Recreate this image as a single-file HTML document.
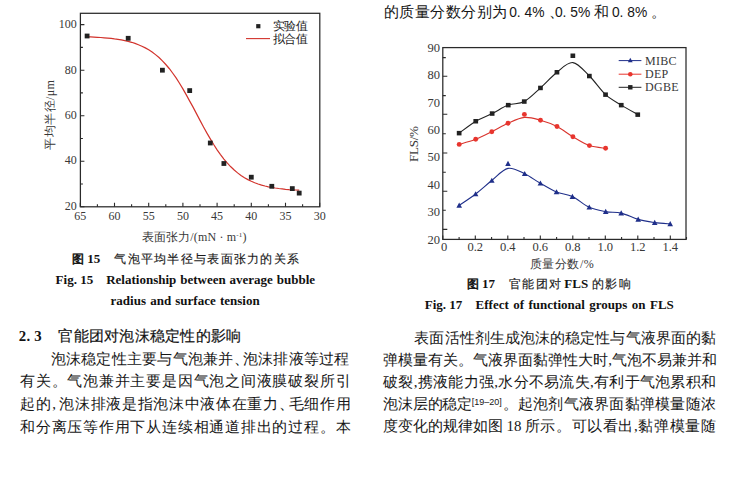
<!DOCTYPE html>
<html><head><meta charset="utf-8"><title>paper</title>
<style>
html,body{margin:0;padding:0;background:#fff}
body{width:749px;height:482px;position:relative;overflow:hidden;font-family:"Liberation Serif",serif;color:#161616}
.c{position:absolute;left:0;top:0}
.c text{font-family:"Liberation Serif",serif;fill:#383838}
.c .tl{font-size:12px}
.c .tr{font-size:12.5px}
.c .lg{font-size:11.5px;fill:#222}
.c .at{font-size:12px}
.c .fl{font-size:13px}
.c .rl{font-size:12px;letter-spacing:0.3px}
.c .cap{font-size:12.5px;fill:#1a1a1a}
.c .capc{font-size:12px;fill:#1a1a1a;stroke:#1a1a1a;stroke-width:0.15px;font-family:"Liberation Sans",sans-serif}
.c .tu{font-size:11.6px;fill:#111;stroke:#111;stroke-width:0.55px;font-family:'Liberation Sans',sans-serif}
.c .en{font-size:13px;font-weight:bold;fill:#111}
.c .hd{font-size:15px;fill:#111;stroke:#111;stroke-width:0.18px;font-family:"Liberation Sans",sans-serif}
.c .bd{font-size:14.9px;fill:#161616}
.c .bn{font-size:13.8px;fill:#161616;font-family:'Liberation Sans',sans-serif}
.h{letter-spacing:-6px}
.cm{letter-spacing:0}
.sp{font-family:'Liberation Sans',sans-serif;font-size:9px;letter-spacing:0}
.a{position:absolute;white-space:nowrap;line-height:1}
.j{text-align:justify;text-align-last:justify}
.p{font-size:14.9px}
</style></head><body>
<svg class="c" width="749" height="482" viewBox="0 0 749 482">
<rect x="80.4" y="13.3" width="239.4" height="193.5" fill="none" stroke="#2a2a2a" stroke-width="1.25"/>
<path d="M80.3,206.8v-4 M97.4,206.8v-2.5 M114.5,206.8v-4 M131.6,206.8v-2.5 M148.7,206.8v-4 M165.8,206.8v-2.5 M182.9,206.8v-4 M200.0,206.8v-2.5 M217.1,206.8v-4 M234.2,206.8v-2.5 M251.3,206.8v-4 M268.4,206.8v-2.5 M285.5,206.8v-4 M302.6,206.8v-2.5 M319.7,206.8v-4 M80.4,206.8h4 M80.4,184.0h2.5 M80.4,161.2h4 M80.4,138.5h2.5 M80.4,115.7h4 M80.4,92.9h2.5 M80.4,70.2h4 M80.4,47.4h2.5 M80.4,24.6h4" stroke="#2a2a2a" stroke-width="1.1" fill="none"/>
<text x="80.3" y="219.6" class="tl" text-anchor="middle">65</text>
<text x="114.5" y="219.6" class="tl" text-anchor="middle">60</text>
<text x="148.7" y="219.6" class="tl" text-anchor="middle">55</text>
<text x="182.9" y="219.6" class="tl" text-anchor="middle">50</text>
<text x="217.1" y="219.6" class="tl" text-anchor="middle">45</text>
<text x="251.3" y="219.6" class="tl" text-anchor="middle">40</text>
<text x="285.5" y="219.6" class="tl" text-anchor="middle">35</text>
<text x="319.7" y="219.6" class="tl" text-anchor="middle">30</text>
<text x="76.8" y="209.8" class="tl" text-anchor="end">20</text>
<text x="76.8" y="164.4" class="tl" text-anchor="end">40</text>
<text x="76.8" y="119.1" class="tl" text-anchor="end">60</text>
<text x="76.8" y="73.7" class="tl" text-anchor="end">80</text>
<text x="76.8" y="28.3" class="tl" text-anchor="end">100</text>
<polyline fill="none" stroke="#d2332c" stroke-width="1.2" points="87.1,36.8 90.6,36.9 94.0,37.1 97.4,37.3 100.8,37.5 104.2,37.8 107.7,38.1 111.1,38.4 114.5,38.9 117.9,39.3 121.3,39.9 124.8,40.6 128.2,41.4 131.6,42.3 135.0,43.4 138.4,44.7 141.9,46.2 145.3,47.9 148.7,49.8 152.1,52.0 155.5,54.6 159.0,57.5 162.4,60.8 165.8,64.5 169.2,68.5 172.6,73.0 176.1,77.9 179.5,83.2 182.9,88.9 186.3,94.9 189.7,101.1 193.2,107.4 196.6,113.9 200.0,120.4 203.4,126.7 206.8,132.9 210.3,138.9 213.7,144.5 217.1,149.8 220.5,154.6 223.9,159.1 227.4,163.2 230.8,166.8 234.2,170.0 237.6,172.9 241.0,175.5 244.5,177.7 247.9,179.6 251.3,181.3 254.7,182.7 258.1,184.0 261.6,185.1 265.0,186.0 268.4,186.8 271.8,187.4 275.2,188.0 278.7,188.5 282.1,188.9 285.5,189.3 288.9,189.6 292.3,189.8 295.8,190.0 299.2,190.2"/>
<rect x="84.7" y="33.6" width="4.8" height="4.8" fill="#222"/>
<rect x="125.8" y="35.9" width="4.8" height="4.8" fill="#222"/>
<rect x="160.0" y="67.8" width="4.8" height="4.8" fill="#222"/>
<rect x="187.3" y="88.2" width="4.8" height="4.8" fill="#222"/>
<rect x="207.9" y="140.6" width="4.8" height="4.8" fill="#222"/>
<rect x="221.5" y="161.1" width="4.8" height="4.8" fill="#222"/>
<rect x="248.9" y="174.8" width="4.8" height="4.8" fill="#222"/>
<rect x="269.4" y="183.9" width="4.8" height="4.8" fill="#222"/>
<rect x="289.9" y="186.2" width="4.8" height="4.8" fill="#222"/>
<rect x="296.8" y="190.7" width="4.8" height="4.8" fill="#222"/>
<rect x="256.2" y="24.1" width="4.2" height="4.2" fill="#222"/>
<path d="M246,38.6H270" stroke="#d2332c" stroke-width="1.1"/>
<text x="272.6" y="30.3" class="lg" textLength="35.6" lengthAdjust="spacing">实验值</text>
<text x="272.6" y="43.3" class="lg" textLength="35.6" lengthAdjust="spacing">拟合值</text>
<text x="141.5" y="241" class="at" textLength="105" lengthAdjust="spacing">表面张力/(mN · m<tspan dy="-4.5" font-size="7">-1</tspan><tspan dy="4.5">)</tspan></text>
<text transform="translate(53.6,149.6) rotate(-90)" class="at" textLength="69.5" lengthAdjust="spacing">平均半径/μm</text>
<rect x="442.8" y="47.6" width="243.2" height="191.8" fill="none" stroke="#2a2a2a" stroke-width="1.25"/>
<path d="M442.8,239.4v-4 M459.1,239.4v-2.3 M475.3,239.4v-4 M491.6,239.4v-2.3 M507.8,239.4v-4 M524.0,239.4v-2.3 M540.3,239.4v-4 M556.6,239.4v-2.3 M572.8,239.4v-4 M589.0,239.4v-2.3 M605.3,239.4v-4 M621.6,239.4v-2.3 M637.8,239.4v-4 M654.0,239.4v-2.3 M670.3,239.4v-4 M686.5,239.4v-2.3 M442.8,57.6h3 M442.8,76.3h4.5 M442.8,95.6h3 M442.8,114.3h4.5 M442.8,133.8h3 M442.8,153.0h4.5 M442.8,172.2h3 M442.8,191.3h4.5 M442.8,210.3h3 M442.8,229.4h4.5" stroke="#2a2a2a" stroke-width="1.1" fill="none"/>
<text x="440" y="51.6" class="tr" text-anchor="end">90</text>
<text x="440" y="79.0" class="tr" text-anchor="end">80</text>
<text x="440" y="106.5" class="tr" text-anchor="end">70</text>
<text x="440" y="133.9" class="tr" text-anchor="end">60</text>
<text x="440" y="161.3" class="tr" text-anchor="end">50</text>
<text x="440" y="188.8" class="tr" text-anchor="end">40</text>
<text x="440" y="216.2" class="tr" text-anchor="end">30</text>
<text x="440" y="243.6" class="tr" text-anchor="end">20</text>
<text x="444.1" y="251.2" class="tr" text-anchor="middle">0</text>
<text x="475.3" y="251.2" class="tr" text-anchor="middle">0.2</text>
<text x="507.8" y="251.2" class="tr" text-anchor="middle">0.4</text>
<text x="540.3" y="251.2" class="tr" text-anchor="middle">0.6</text>
<text x="572.8" y="251.2" class="tr" text-anchor="middle">0.8</text>
<text x="605.3" y="251.2" class="tr" text-anchor="middle">1.0</text>
<text x="637.8" y="251.2" class="tr" text-anchor="middle">1.2</text>
<text x="670.3" y="251.2" class="tr" text-anchor="middle">1.4</text>
<text x="529.6" y="267.6" class="at" textLength="64.2" lengthAdjust="spacing">质量分数/%</text>
<text transform="translate(418.0,162.1) rotate(-90)" class="fl" textLength="36" lengthAdjust="spacing">FLS/%</text>
<path d="M459.2,133.1 C462.0,131.1 470.3,124.5 475.8,121.2 C481.3,117.9 486.8,116.2 492.2,113.5 C497.6,110.8 503.0,107.1 508.3,105.1 C513.6,103.1 518.9,104.4 524.3,101.5 C529.7,98.6 535.0,92.8 540.5,87.9 C546.0,83.0 551.6,76.4 557.0,72.2 C562.4,68.0 567.5,62.0 572.9,62.6 C578.3,63.2 583.9,70.7 589.4,76.0 C594.9,81.3 600.3,89.8 605.6,94.6 C610.9,99.4 615.9,101.8 621.3,105.1 C626.7,108.4 635.0,113.0 637.8,114.6" fill="none" stroke="#222" stroke-width="1.1"/>
<path d="M459.2,144.4 C461.9,143.6 470.3,141.4 475.7,139.3 C481.1,137.2 486.4,134.4 491.8,131.7 C497.2,129.0 502.6,125.7 508.0,123.3 C513.4,120.9 519.0,117.9 524.4,117.4 C529.8,116.9 535.1,118.7 540.5,120.2 C545.9,121.7 551.6,123.7 557.0,126.5 C562.4,129.3 567.5,133.6 572.9,136.8 C578.3,140.0 583.9,143.7 589.4,145.6 C594.9,147.5 602.9,147.9 605.6,148.3" fill="none" stroke="#d9352e" stroke-width="1.1"/>
<path d="M459.2,205.4 C461.9,203.5 470.2,198.2 475.6,194.0 C481.0,189.8 486.4,184.8 491.8,180.5 C497.2,176.2 502.5,169.5 508.0,168.4 C513.5,167.3 519.3,171.3 524.7,173.8 C530.1,176.3 535.1,180.3 540.4,183.3 C545.7,186.3 551.2,189.8 556.5,192.0 C561.8,194.2 566.9,194.0 572.4,196.6 C577.9,199.2 583.8,204.8 589.3,207.3 C594.8,209.8 600.4,210.6 605.7,211.6 C611.0,212.6 615.8,211.8 621.2,213.1 C626.6,214.4 632.6,217.8 638.2,219.4 C643.8,221.0 649.4,221.8 654.7,222.6 C660.0,223.3 667.6,223.7 670.2,223.9" fill="none" stroke="#1f2f8a" stroke-width="1.1"/>
<rect x="456.8" y="130.9" width="4.7" height="4.5" fill="#222"/>
<rect x="473.4" y="119.0" width="4.7" height="4.5" fill="#222"/>
<rect x="489.8" y="111.3" width="4.7" height="4.5" fill="#222"/>
<rect x="505.9" y="102.9" width="4.7" height="4.5" fill="#222"/>
<rect x="521.9" y="99.3" width="4.7" height="4.5" fill="#222"/>
<rect x="538.1" y="85.7" width="4.7" height="4.5" fill="#222"/>
<rect x="554.6" y="70.0" width="4.7" height="4.5" fill="#222"/>
<rect x="570.5" y="53.5" width="4.7" height="4.5" fill="#222"/>
<rect x="587.0" y="73.8" width="4.7" height="4.5" fill="#222"/>
<rect x="603.2" y="92.4" width="4.7" height="4.5" fill="#222"/>
<rect x="618.9" y="102.9" width="4.7" height="4.5" fill="#222"/>
<rect x="635.4" y="112.4" width="4.7" height="4.5" fill="#222"/>
<circle cx="459.2" cy="144.4" r="2.45" fill="#e8352e"/>
<circle cx="475.7" cy="139.3" r="2.45" fill="#e8352e"/>
<circle cx="491.8" cy="131.7" r="2.45" fill="#e8352e"/>
<circle cx="508" cy="123.3" r="2.45" fill="#e8352e"/>
<circle cx="524.4" cy="114.4" r="2.45" fill="#e8352e"/>
<circle cx="540.5" cy="120.2" r="2.45" fill="#e8352e"/>
<circle cx="557" cy="126.5" r="2.45" fill="#e8352e"/>
<circle cx="572.9" cy="136.8" r="2.45" fill="#e8352e"/>
<circle cx="589.4" cy="145.6" r="2.45" fill="#e8352e"/>
<circle cx="605.6" cy="148.3" r="2.45" fill="#e8352e"/>
<path d="M459.2,202.6l2.8,5.1h-5.6z" fill="#1f2f8a"/>
<path d="M475.6,191.2l2.8,5.1h-5.6z" fill="#1f2f8a"/>
<path d="M491.8,177.7l2.8,5.1h-5.6z" fill="#1f2f8a"/>
<path d="M508.0,160.8l2.8,5.1h-5.6z" fill="#1f2f8a"/>
<path d="M524.7,171.0l2.8,5.1h-5.6z" fill="#1f2f8a"/>
<path d="M540.4,180.5l2.8,5.1h-5.6z" fill="#1f2f8a"/>
<path d="M556.5,189.2l2.8,5.1h-5.6z" fill="#1f2f8a"/>
<path d="M572.4,193.8l2.8,5.1h-5.6z" fill="#1f2f8a"/>
<path d="M589.3,204.5l2.8,5.1h-5.6z" fill="#1f2f8a"/>
<path d="M605.7,208.8l2.8,5.1h-5.6z" fill="#1f2f8a"/>
<path d="M621.2,210.3l2.8,5.1h-5.6z" fill="#1f2f8a"/>
<path d="M638.2,216.6l2.8,5.1h-5.6z" fill="#1f2f8a"/>
<path d="M654.7,219.8l2.8,5.1h-5.6z" fill="#1f2f8a"/>
<path d="M670.2,221.1l2.8,5.1h-5.6z" fill="#1f2f8a"/>
<path d="M618.7,60.6H641.4" stroke-width="1" stroke="#1f2f8a"/>
<path d="M618.7,74.2H641.4" stroke-width="1" stroke="#e8352e"/>
<path d="M618.7,87.3H641.4" stroke-width="1" stroke="#222"/>
<path d="M630.3,57.8l2.4,4.4h-4.8z" fill="#1f2f8a"/>
<circle cx="630.3" cy="74.2" r="2.3" fill="#e8352e"/>
<rect x="628.1" y="85.1" width="4.4" height="4.4" fill="#222"/>
<text x="645" y="65.2" class="rl">MIBC</text>
<text x="645" y="78.3" class="rl">DEP</text>
<text x="645" y="91.4" class="rl">DGBE</text>
<text x="72" y="262.9" class="tu">图</text>
<text x="87.3" y="262.7" class="en">15</text>
<text x="114.3" y="263.2" class="capc" textLength="184.6" lengthAdjust="spacing">气泡平均半径与表面张力的关系</text>
<text x="55.6" y="284" class="en">Fig. 15</text>
<text x="106.2" y="284" class="en" word-spacing="0.65">Relationship between average bubble</text>
<text x="110.6" y="304.9" class="en" word-spacing="0.93">radius and surface tension</text>
<text x="466.9" y="288.3" class="tu">图</text>
<text x="481.9" y="287.9" class="en">17</text>
<text x="508.8" y="288.4" class="capc" textLength="52.5" lengthAdjust="spacing">官能团对</text>
<text x="564.3" y="288.4" class="en">FLS</text>
<text x="592" y="288.4" class="capc" textLength="38.6" lengthAdjust="spacing">的影响</text>
<text x="424.8" y="309.3" class="en">Fig. 17</text>
<text x="475.6" y="309.3" class="en" word-spacing="1.2">Effect of functional groups on FLS</text>
<text x="18.8" y="341.1" class="en" style="font-size:14.8px;letter-spacing:0.2px">2. 3</text>
<text x="58.3" y="341.4" class="hd" textLength="183" lengthAdjust="spacing">官能团对泡沫稳定性的影响</text>
<text x="383.6" y="16.6" class="bd" textLength="123.4" lengthAdjust="spacing">的质量分数分别为</text>
<text x="509.2" y="17" class="bn">0. 4%</text>
<text x="548.6" y="16.6" class="bd">、</text>
<text x="554.9" y="17" class="bn">0. 5%</text>
<text x="593.6" y="16.6" class="bd">和</text>
<text x="611.9" y="17" class="bn">0. 8%</text>
<text x="650.8" y="16.6" class="bd">。</text>
</svg>
<div class="a p j" style="left:50.6px;top:351.7px;width:298.9px">泡沫稳定性主要与气泡兼并<span class="h">、</span>泡沫排液等过程</div>
<div class="a p j" style="left:20px;top:374.4px;width:330.5px">有关。气泡兼并主要是因气泡之间液膜破裂所引</div>
<div class="a p j" style="left:20px;top:396.6px;width:330.5px">起的<span class="cm" style="margin-left:1px;letter-spacing:2.6px">,</span>泡沫排液是指泡沫中液体在重力<span class="h">、</span>毛细作用</div>
<div class="a p j" style="left:20px;top:419.6px;width:330.5px">和分离压等作用下从连续相通道排出的过程。本</div>
<div class="a p j" style="left:414.4px;top:331px;width:301.6px">表面活性剂生成泡沫的稳定性与气液界面的黏</div>
<div class="a p j" style="left:383.2px;top:353.2px;width:332.8px">弹模量有关。气液界面黏弹性大时<span class="cm">,</span>气泡不易兼并和</div>
<div class="a p j" style="left:383.2px;top:375.2px;width:332.8px">破裂<span class="cm">,</span>携液能力强<span class="cm">,</span>水分不易流失<span class="cm">,</span>有利于气泡累积和</div>
<div class="a p" style="left:383.2px;top:397.2px;letter-spacing:-0.2px">泡沫层的稳定</div>
<div class="a sp" style="left:471.8px;top:398.1px">[19–20]</div>
<div class="a p j" style="left:502.6px;top:397.2px;width:213.4px">。起泡剂气液界面黏弹模量随浓</div>
<div class="a p" style="left:383.2px;top:419.2px">度变化的规律如图</div>
<div class="a p" style="left:506.6px;top:419.2px">18</div>
<div class="a p j" style="left:524.6px;top:419.2px;width:191.4px">所示。可以看出<span class="cm">,</span>黏弹模量随</div>
</body></html>
